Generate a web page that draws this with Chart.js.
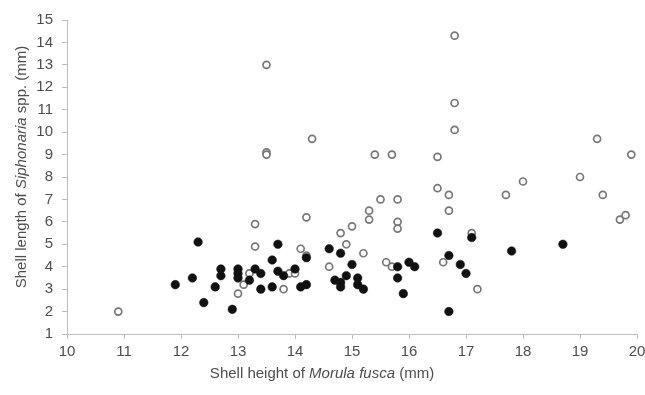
<!DOCTYPE html>
<html>
<head>
<meta charset="utf-8">
<script src="https://cdn.jsdelivr.net/npm/chart.js@4.4.0/dist/chart.umd.min.js"></script>
<style>
  html, body { margin: 0; padding: 0; background: #fff; }
  #wrap { width: 645px; height: 395px; }
</style>
</head>
<body>
<div id="wrap"><canvas id="shellChart" width="645" height="395"></canvas></div>
<script>
// filled circles
const filledHeights = [11.9, 12.2, 12.3, 12.4, 12.6, 12.7, 12.7, 12.9, 13.0, 13.0, 13.0, 13.2, 13.3, 13.4, 13.4,
  13.6, 13.6, 13.7, 13.7, 13.8, 14.0, 14.1, 14.2, 14.2, 14.6, 14.7, 14.8, 14.8, 14.8, 14.9, 15.0, 15.1, 15.1,
  15.2, 15.8, 15.8, 15.9, 16.0, 16.1, 16.5, 16.7, 16.7, 16.9, 17.0, 17.1, 17.8, 18.7];
const filledLengths = [3.2, 3.5, 5.1, 2.4, 3.1, 3.9, 3.6, 2.1, 3.9, 3.7, 3.5, 3.4, 3.9, 3.7, 3.0,
  4.3, 3.1, 5.0, 3.8, 3.6, 3.9, 3.1, 3.2, 4.4, 4.8, 3.4, 4.6, 3.3, 3.1, 3.6, 4.1, 3.5, 3.2,
  3.0, 4.0, 3.5, 2.8, 4.2, 4.0, 5.5, 4.5, 2.0, 4.1, 3.7, 5.3, 4.7, 5.0];

// open circles
const openHeights = [10.9, 13.0, 13.1, 13.2, 13.3, 13.3, 13.5, 13.5, 13.5, 13.8, 13.9, 14.0, 14.1, 14.2, 14.2,
  14.3, 14.6, 14.8, 14.9, 15.0, 15.2, 15.3, 15.3, 15.4, 15.5, 15.6, 15.7, 15.7, 15.8, 15.8, 15.8, 16.5, 16.5,
  16.6, 16.7, 16.7, 16.8, 16.8, 16.8, 17.1, 17.2, 17.7, 18.0, 19.0, 19.3, 19.4, 19.7, 19.8, 19.9];
const openLengths = [2.0, 2.8, 3.2, 3.7, 5.9, 4.9, 13.0, 9.1, 9.0, 3.0, 3.7, 3.7, 4.8, 6.2, 4.5,
  9.7, 4.0, 5.5, 5.0, 5.8, 4.6, 6.5, 6.1, 9.0, 7.0, 4.2, 4.0, 9.0, 7.0, 6.0, 5.7, 8.9, 7.5,
  4.2, 7.2, 6.5, 14.3, 11.3, 10.1, 5.5, 3.0, 7.2, 7.8, 8.0, 9.7, 7.2, 6.1, 6.3, 9.0];

const xTicks = [10, 11, 12, 13, 14, 15, 16, 17, 18, 19, 20];
const yTicks = [1, 2, 3, 4, 5, 6, 7, 8, 9, 10, 11, 12, 13, 14, 15];

const xTitleParts = [["Shell height of ", false], ["Morula fusca", true], [" (mm)", false]];
const yTitleParts = [["Shell length of ", false], ["Siphonaria", true], [" spp. (mm)", false]];

const textColor = "#4d4d4d";
const axisColor = "#bdbdbd";
const fontFamily = "'Liberation Sans', Arial, sans-serif";

function toPoints(xs, ys) {
  return xs.map((x, i) => ({ x: x, y: ys[i] }));
}

// draws an axis title with mixed italic parts
function drawParts(ctx, parts, size) {
  let total = 0;
  parts.forEach(p => {
    ctx.font = (p[1] ? "italic " : "") + size + "px " + fontFamily;
    total += ctx.measureText(p[0]).width;
  });
  let pos = -total / 2;
  parts.forEach(p => {
    ctx.font = (p[1] ? "italic " : "") + size + "px " + fontFamily;
    ctx.fillText(p[0], pos, 0);
    pos += ctx.measureText(p[0]).width;
  });
}

const titlePlugin = {
  id: "axisTitles",
  afterDraw(chart) {
    const ctx = chart.ctx;
    ctx.save();
    ctx.fillStyle = textColor;
    ctx.textAlign = "left";
    ctx.textBaseline = "middle";

    ctx.save();
    ctx.translate(322, 374);
    drawParts(ctx, xTitleParts, 15);
    ctx.restore();

    ctx.save();
    ctx.translate(22, 167);
    ctx.rotate(-Math.PI / 2);
    drawParts(ctx, yTitleParts, 15);
    ctx.restore();

    ctx.restore();
  }
};

const ctx = document.getElementById("shellChart").getContext("2d");

new Chart(ctx, {
  type: "scatter",
  data: {
    datasets: [
      {
        label: "filled",
        data: toPoints(filledHeights, filledLengths),
        pointRadius: 4.3,
        pointBackgroundColor: "#111",
        pointBorderColor: "#111",
        pointBorderWidth: 0.5
      },
      {
        label: "open",
        data: toPoints(openHeights, openLengths),
        pointRadius: 3.5,
        pointBackgroundColor: "#fff",
        pointBorderColor: "#777",
        pointBorderWidth: 1.7
      }
    ]
  },
  options: {
    responsive: false,
    animation: false,
    events: [],
    layout: { padding: { left: 0, right: 8, top: 20, bottom: 0 } },
    plugins: {
      legend: { display: false },
      tooltip: { enabled: false }
    },
    scales: {
      x: {
        type: "linear",
        min: 10,
        max: 20,
        afterBuildTicks: axis => { axis.ticks = xTicks.map(v => ({ value: v })); },
        afterFit: axis => { axis.height = 61; axis.paddingRight = 0; axis.paddingLeft = 0; },
        grid: { drawOnChartArea: false, tickLength: 5, color: axisColor },
        border: { color: axisColor, width: 1 },
        ticks: { color: textColor, font: { family: fontFamily, size: 15 }, padding: 4, maxRotation: 0 }
      },
      y: {
        type: "linear",
        min: 1,
        max: 15,
        afterBuildTicks: axis => { axis.ticks = yTicks.map(v => ({ value: v })); },
        afterFit: axis => { axis.width = 67; axis.paddingTop = 0; axis.paddingBottom = 0; },
        grid: { drawOnChartArea: false, tickLength: 5, color: axisColor },
        border: { color: axisColor, width: 1 },
        ticks: { color: textColor, font: { family: fontFamily, size: 15 }, padding: 9 }
      }
    }
  },
  plugins: [titlePlugin]
});
</script>
</body>
</html>
